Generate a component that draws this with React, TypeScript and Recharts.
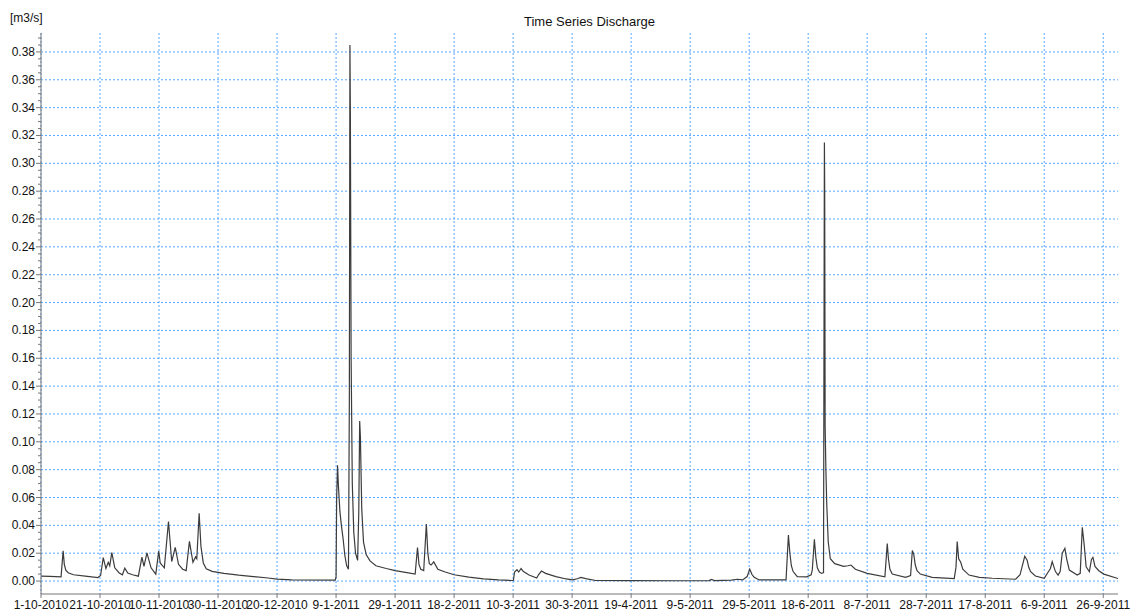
import React from 'react';
import { LineChart, Line, XAxis, YAxis, CartesianGrid } from 'recharts';

// discharge readings as [day since 1-10-2010, m3/s]
const autumn2010: [number, number][] = [
  [0, 0.0035], [3, 0.0033], [6.8, 0.003], [7.5, 0.0218], [7.9, 0.012], [8.4, 0.0078], [9.2, 0.006],
  [11, 0.0045], [15, 0.0035], [19.3, 0.0025], [20.2, 0.004], [21.1, 0.0168], [22, 0.009],
  [22.8, 0.0135], [23.3, 0.011], [24, 0.0204], [25, 0.0095], [26.5, 0.0058], [27.6, 0.0045],
  [28.4, 0.0093], [29.4, 0.0058], [31, 0.0045], [33, 0.0035], [34.2, 0.0172], [34.9, 0.0105],
  [35.9, 0.0202], [37.3, 0.0095], [38.9, 0.005], [39.9, 0.0216], [40.4, 0.013], [41, 0.0115],
  [41.8, 0.0095], [43.2, 0.0428], [44.3, 0.014], [45.5, 0.0242], [46.6, 0.012], [48, 0.0085],
  [49.2, 0.0075], [50.3, 0.0285], [51.5, 0.0135], [52.4, 0.0175], [52.8, 0.016], [53.6, 0.0486],
  [54.2, 0.025], [55, 0.013], [56, 0.0088], [58, 0.007], [62, 0.0055], [67, 0.0042], [72, 0.0032],
  [77, 0.0022], [80, 0.0014], [85, 0.0008], [99.7, 0.0007],
];

const winter2011: [number, number][] = [
  [100, 0.003], [100.2, 0.06], [100.5, 0.0832], [100.8, 0.068], [101.3, 0.05], [101.8, 0.04],
  [102.4, 0.03], [103, 0.018], [103.6, 0.011], [104.2, 0.0085], [104.5, 0.13], [104.7, 0.385],
  [104.85, 0.333], [105.1, 0.16], [105.5, 0.07], [106, 0.035], [106.6, 0.02], [107.3, 0.0148],
  [107.7, 0.05], [108, 0.115], [108.25, 0.103], [108.7, 0.052], [109.3, 0.028], [110.2, 0.019],
  [111.5, 0.0145], [113.5, 0.011], [117, 0.009], [120, 0.0075], [124, 0.006], [126.8, 0.005],
  [127.6, 0.024], [128.1, 0.012], [128.7, 0.0085], [129.7, 0.0075], [130.6, 0.041], [131.1, 0.02],
  [131.6, 0.0125], [132.2, 0.0115], [133.1, 0.0138], [134.5, 0.0085], [137, 0.0065], [140, 0.0045],
  [145, 0.0028], [150, 0.0015], [155, 0.0008], [159.8, 0.0004],
];

const spring2011: [number, number][] = [
  [160.1, 0.0006], [160.5, 0.0065], [161.3, 0.0082], [161.9, 0.0065], [162.7, 0.009],
  [163.5, 0.0068], [165.4, 0.0043], [168, 0.0022], [168.6, 0.0045], [169.6, 0.0072],
  [171, 0.0055], [174.5, 0.0032], [178, 0.0015], [180.2, 0.0008], [182, 0.0018], [183, 0.0026],
  [184.6, 0.0018], [188, 0.0004], [200, 0.0003], [215, 0.0002], [226.4, 0.0003], [227.2, 0.0011],
  [228.3, 0.0003], [234, 0.0006], [236, 0.0013], [237.8, 0.0008], [239.3, 0.0032],
  [240.2, 0.0085], [241, 0.0045], [241.7, 0.0028], [243.4, 0.0008], [252.5, 0.0008], [253.3, 0.033],
  [253.8, 0.02], [254.3, 0.011], [254.9, 0.0068], [256.3, 0.0032], [259.5, 0.003], [261, 0.0045],
  [261.4, 0.008], [262.1, 0.03], [262.6, 0.017], [263.1, 0.0095], [263.8, 0.0065], [264.6, 0.0055],
];

const summer2011: [number, number][] = [
  [265.2, 0.006], [265.4, 0.216], [265.5, 0.315], [265.6, 0.28], [265.75, 0.111], [266, 0.08],
  [266.3, 0.055], [266.8, 0.028], [267.5, 0.016], [269, 0.0125], [272, 0.0105], [273.5, 0.011],
  [274.5, 0.0115], [276, 0.0085], [280, 0.0055], [286, 0.003], [286.3, 0.012], [286.8, 0.027],
  [287.2, 0.016], [287.7, 0.0085], [288.5, 0.005], [293, 0.0027], [294.7, 0.004], [295.3, 0.022],
  [295.8, 0.019], [296.3, 0.0115], [296.9, 0.0075], [298, 0.005], [302, 0.0027], [309.5, 0.0017],
  [310.1, 0.01], [310.5, 0.0283], [311, 0.016], [311.7, 0.0135], [312.4, 0.0085], [314.5, 0.0043],
  [318, 0.0027], [322.4, 0.002], [330.3, 0.0013], [331.8, 0.0045], [333.4, 0.0178], [334.2, 0.015],
  [334.8, 0.0095], [335.4, 0.0067], [337, 0.0036], [340, 0.0019], [341.4, 0.0067], [342.1, 0.009],
  [342.7, 0.014], [343.8, 0.0068], [344.7, 0.0043], [345.4, 0.0068], [346.1, 0.02], [346.6, 0.022],
  [347, 0.0235], [347.6, 0.016], [348.5, 0.0079], [351.2, 0.0043], [352.2, 0.0055], [352.9, 0.0386],
  [353.5, 0.027], [354.2, 0.0103], [355.3, 0.0067], [356, 0.0155], [356.5, 0.017], [357.2, 0.0105],
  [358.5, 0.0074], [360.2, 0.005], [365, 0.0018],
];

const tickDays = [0, 20, 40, 60, 80, 100, 120, 140, 160, 180, 200, 220, 240, 260, 280, 300, 320, 340, 360];
const tickLabels = [
  '1-10-2010', '21-10-2010', '10-11-2010', '30-11-2010', '20-12-2010', '9-1-2011', '29-1-2011',
  '18-2-2011', '10-3-2011', '30-3-2011', '19-4-2011', '9-5-2011', '29-5-2011', '18-6-2011',
  '8-7-2011', '28-7-2011', '17-8-2011', '6-9-2011', '26-9-2011',
];
const majorY = [0, 0.02, 0.04, 0.06, 0.08, 0.1, 0.12, 0.14, 0.16, 0.18, 0.2, 0.22, 0.24, 0.26, 0.28, 0.3, 0.32, 0.34, 0.36, 0.38];

const data = [...autumn2010, ...winter2011, ...spring2011, ...summer2011].map(([day, q]) => ({ day, q }));

// minor ticks every 0.005
const minorY = Array.from({ length: 79 }, (_, i) => Math.round(i * 5) / 1000);

const AXIS_X = 41;
const FONT = '"Liberation Sans", Arial, sans-serif';

const YTick = (props: any) => {
  const { y, payload } = props;
  const v = payload.value;
  const major = Math.abs(v * 50 - Math.round(v * 50)) < 1e-6;
  return (
    <g>
      <line x1={AXIS_X - (major ? 5 : 3)} x2={AXIS_X} y1={y} y2={y} stroke="#777" />
      {major && (
        <text x={AXIS_X - 6} y={y} dy={4} textAnchor="end" fontSize={12} fill="#111" fontFamily={FONT}>
          {v.toFixed(2)}
        </text>
      )}
    </g>
  );
};

export default function App() {
  return (
    <div style={{ position: 'absolute', left: 0, top: 0, width: 1137, height: 612, background: '#fff', fontFamily: FONT }}>
      <div style={{ position: 'absolute', left: 10, top: 11, fontSize: 12, color: '#111' }}>[m3/s]</div>
      <div style={{ position: 'absolute', left: 524, top: 14, fontSize: 13, color: '#111', whiteSpace: 'nowrap' }}>
        Time Series Discharge
      </div>
      <LineChart width={1137} height={612} data={data} margin={{ top: 33, right: 19, bottom: 0, left: 0 }}>
        <CartesianGrid
          stroke="#5aa8ff"
          strokeDasharray="2 2"
          horizontalValues={majorY}
          verticalValues={tickDays}
        />
        <XAxis
          dataKey="day"
          type="number"
          domain={[0, 365]}
          ticks={tickDays}
          interval={0}
          height={18}
          tickSize={4}
          tickMargin={2}
          stroke="#777"
          tick={{ fontSize: 12, fill: '#111', fontFamily: FONT }}
          tickFormatter={(d: number) => tickLabels[tickDays.indexOf(d)]}
          allowDataOverflow
        />
        <XAxis xAxisId="top" orientation="top" type="number" domain={[0, 365]} height={0} tick={false} tickLine={false} stroke="#777" />
        <YAxis
          type="number"
          domain={[-0.0093, 0.3936]}
          ticks={minorY}
          interval={0}
          width={41}
          tickLine={false}
          stroke="#777"
          tick={<YTick />}
          allowDataOverflow
        />
        <YAxis yAxisId="right" orientation="right" type="number" domain={[0, 1]} width={0} tick={false} tickLine={false} stroke="#777" />
        <Line
          type="linear"
          dataKey="q"
          stroke="#3c3c3c"
          strokeWidth={1.2}
          dot={false}
          isAnimationActive={false}
        />
      </LineChart>
    </div>
  );
}
